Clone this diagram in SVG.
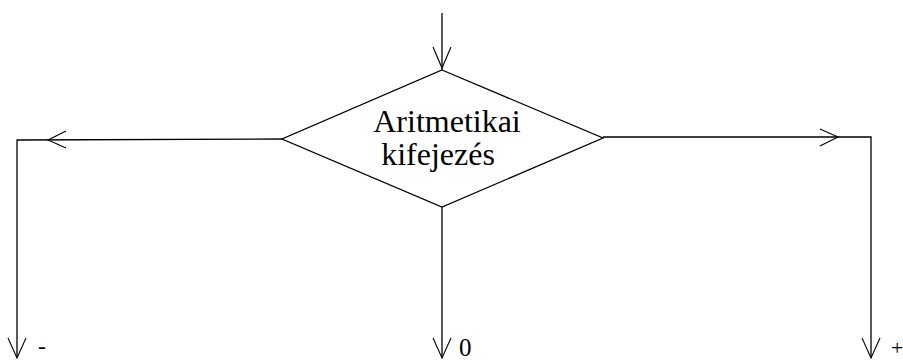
<svg xmlns="http://www.w3.org/2000/svg" width="903" height="360" viewBox="0 0 903 360">
<style>
.ln{fill:none;stroke:#000;stroke-width:1.3}
.ar{fill:none;stroke:#000;stroke-width:1.1}
.t{font-family:'Liberation Serif','Times New Roman',serif;fill:#000}
</style>
<rect width="903" height="360" fill="#fff"/>
<g id="decision">
<polygon class="ln" points="442,70 603,138 442,207 282,139"/>
<text class="t" x="447" y="132" font-size="32" text-anchor="middle">Aritmetikai</text>
<text class="t" x="438" y="165" font-size="32" text-anchor="middle">kifejezés</text>
</g>
<g id="connectors">
<line class="ln" x1="442" y1="13" x2="442" y2="70"/>
<polyline class="ar" points="433,47 442,68 451,47"/>
<polyline class="ln" points="282,139 17,140 17,358"/>
<polyline class="ar" points="66,131 48,140 66,148"/>
<polyline class="ar" points="8,338 17,358 26,338"/>
<polyline class="ln" points="603,137 871,137 871,358"/>
<polyline class="ar" points="820,129 838,137 820,146"/>
<polyline class="ar" points="862,338 871,358 880,338"/>
<line class="ln" x1="442" y1="207" x2="442" y2="358"/>
<polyline class="ar" points="433,338 442,358 451,338"/>
</g>
<g id="labels">
<text class="t" x="38" y="354" font-size="24">-</text>
<text class="t" x="459" y="356" font-size="25">0</text>
<text class="t" x="891" y="355" font-size="22">+</text>
</g>
</svg>
